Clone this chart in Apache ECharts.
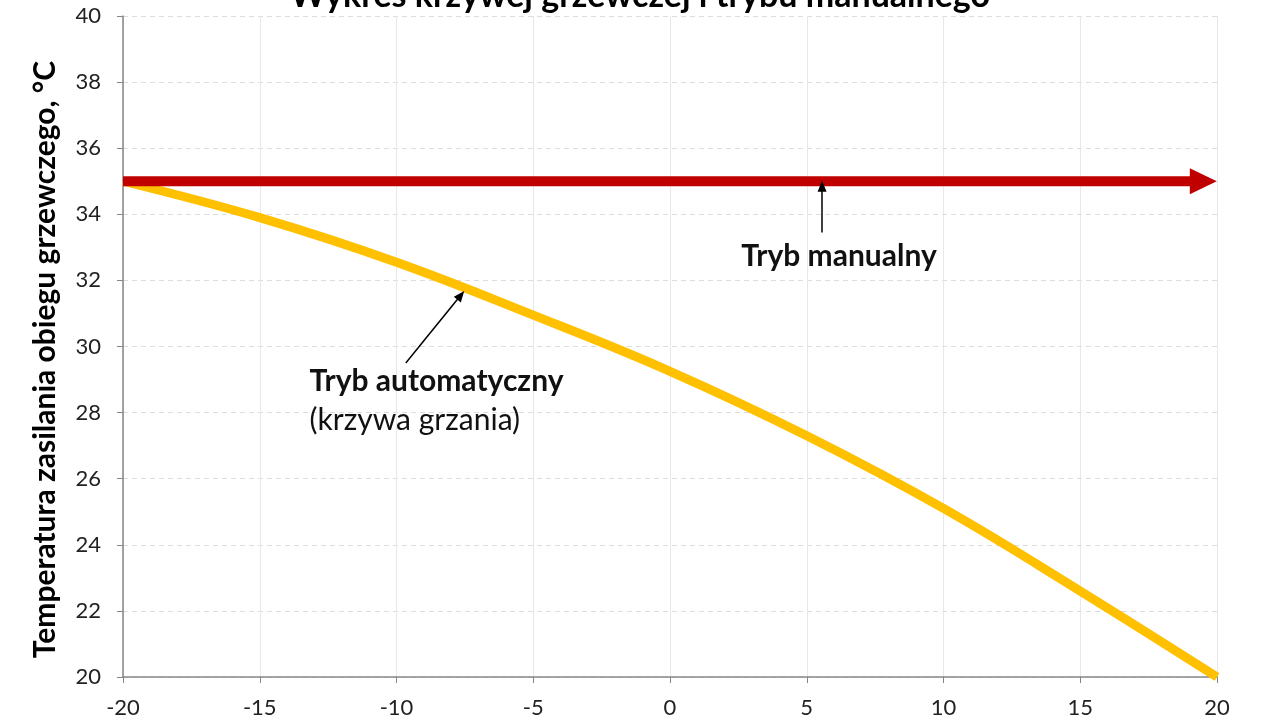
<!DOCTYPE html>
<html>
<head>
<meta charset="utf-8">
<title>Wykres krzywej grzewczej</title>
<script src="https://cdn.jsdelivr.net/npm/echarts@6/dist/echarts.min.js"></script>
<style>
  html, body { margin: 0; padding: 0; background: #fff; }
  #chart { width: 1280px; height: 720px; }
</style>
</head>
<body>
<div id="chart"></div>
<script>
// outdoor temperature (x) and flow temperature of the heating curve (y)
const outdoorTemps = [-20, -15, -10, -5, 0, 5, 10, 15, 20];
const autoFlow = [35, 33.9, 32.55, 30.95, 29.25, 27.3, 25.1, 22.6, 20];

// manual mode: constant flow temperature
const manualX = [-20, 19.2];
const manualY = [35, 35];
const manualArrowTip = [19.5, 35];

// annotation pointers [from, to] in data units
const manualPointer = [[5.56, 33.45], [5.56, 34.85]];
const autoPointer = [[-9.66, 29.5], [-7.65, 31.55]];
const manualTextAt = [6.18, 32.72];
const autoTextAt = [-13.18, 28.96];
const autoSubTextAt = [-13.18, 27.78];

const font = 'Lato, "Open Sans", sans-serif';

const chart = echarts.init(document.getElementById('chart'));

const pointerLine = (pair) => [
  { coord: pair[0], symbol: 'none' },
  { coord: pair[1], symbol: 'triangle', symbolSize: [9, 11] }
];

const textPoint = (at, text, style, align) => ({
  coord: at,
  symbol: 'circle',
  symbolSize: 0,
  label: {
    show: true,
    position: 'inside',
    align: align,
    verticalAlign: 'middle',
    formatter: text,
    fontFamily: font,
    fontSize: 30,
    fontWeight: style,
    color: '#111'
  }
});

chart.setOption({
  animation: false,
  textStyle: { fontFamily: font },
  title: {
    text: 'Wykres krzywej grzewczej i trybu manualnego',
    left: 'center',
    top: -26,
    textStyle: { fontFamily: font, fontSize: 34, fontWeight: 'bold', color: '#000' }
  },
  grid: { left: 123, right: 63, top: 16, bottom: 43 },
  xAxis: {
    type: 'value',
    min: -20,
    max: 20,
    interval: 5,
    axisLine: { lineStyle: { color: '#868686', width: 1.5 } },
    axisTick: { show: true, length: 6, lineStyle: { color: '#868686' } },
    axisLabel: { fontSize: 22, color: '#222', margin: 20, fontFamily: font },
    splitLine: { show: true, lineStyle: { color: '#e8e8e8', width: 1 } }
  },
  yAxis: {
    type: 'value',
    min: 20,
    max: 40,
    interval: 2,
    name: 'Temperatura zasilania obiegu grzewczego, °C',
    nameLocation: 'middle',
    nameGap: 63,
    nameTextStyle: {
      fontFamily: font, fontSize: 30, fontWeight: 'bold', color: '#000',
      padding: [0, 26, 0, 0]
    },
    axisLine: { show: true, onZero: false, lineStyle: { color: '#868686', width: 1.5 } },
    axisTick: { show: true, length: 6, lineStyle: { color: '#868686' } },
    axisLabel: { fontSize: 22, color: '#222', margin: 22, fontFamily: font },
    splitLine: { show: true, lineStyle: { color: '#dcdcdc', width: 1, type: [5, 4] } }
  },
  series: [
    {
      name: 'Tryb automatyczny',
      type: 'line',
      data: outdoorTemps.map((x, i) => [x, autoFlow[i]]),
      smooth: 0.4,
      showSymbol: false,
      lineStyle: { color: '#FFC000', width: 9 },
      z: 2,
      markLine: {
        silent: true,
        symbol: ['none', 'triangle'],
        lineStyle: { color: '#000', width: 1.5, type: 'solid' },
        label: { show: false },
        data: [pointerLine(manualPointer), pointerLine(autoPointer)]
      },
      markPoint: {
        silent: true,
        data: [
          textPoint(manualTextAt, 'Tryb manualny', 'bold', 'center'),
          textPoint(autoTextAt, 'Tryb automatyczny', 'bold', 'left'),
          textPoint(autoSubTextAt, '(krzywa grzania)', 'normal', 'left')
        ]
      }
    },
    {
      name: 'Tryb manualny',
      type: 'line',
      data: manualX.map((x, i) => [x, manualY[i]]),
      showSymbol: false,
      lineStyle: { color: '#C00000', width: 10 },
      z: 3,
      markPoint: {
        silent: true,
        data: [{
          coord: manualArrowTip,
          symbol: 'triangle',
          symbolRotate: -90,
          symbolSize: [26, 27],
          itemStyle: { color: '#C00000' },
          label: { show: false }
        }]
      }
    }
  ]
});
</script>
</body>
</html>
